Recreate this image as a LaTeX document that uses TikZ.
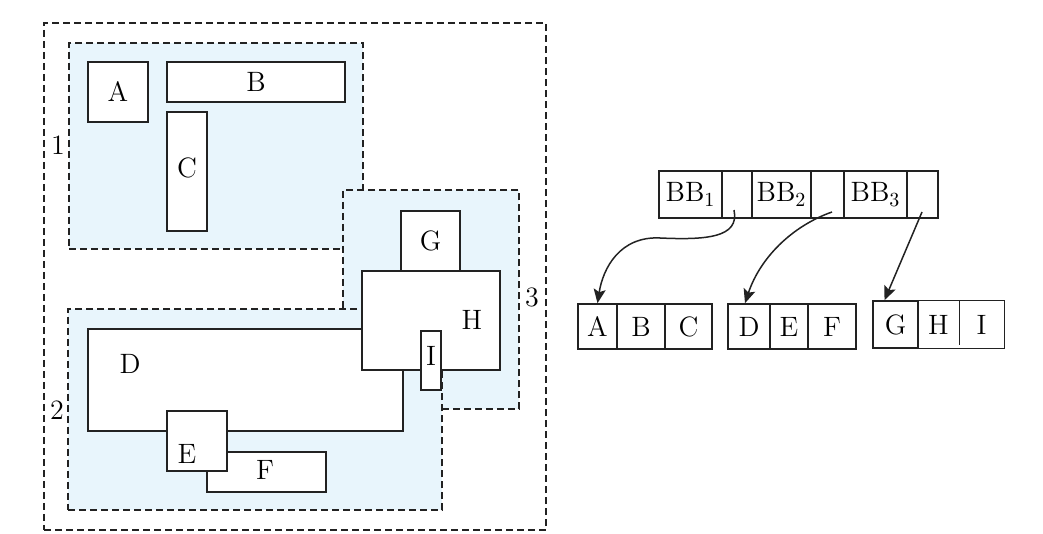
\documentclass[tikz,border=0pt]{standalone}
\usetikzlibrary{arrows.meta}
\definecolor{regionblue}{RGB}{232,245,252}
\definecolor{ink}{RGB}{34,34,34}
\begin{document}
\begin{tikzpicture}[x=0.5pt,y=-0.5pt,
  every node/.style={font=\fontsize{14}{16}\selectfont, text=black},
  region/.style={draw=ink, line width=0.75pt, dash pattern=on 3.3pt off 2.2pt, fill=regionblue, inner sep=0pt},
  outerbox/.style={draw=ink, line width=0.75pt, dash pattern=on 3.3pt off 2.2pt, inner sep=0pt},
  obj/.style={draw=ink, line width=0.9pt, fill=white, inner sep=0pt},
  cell/.style={draw=ink, line width=0.8pt, inner sep=0pt},
  ptr/.style={draw=ink, line width=0.75pt, -{Stealth[length=7pt,width=6pt,inset=1.4pt]}}
]
\useasboundingbox (0,0) rectangle (1043,534);

% outer page boundary
\node[outerbox, minimum width=251pt, minimum height=253.5pt] (outer) at (295,276.5) {};

% three leaf regions (3 over 1, 2 over 3)
\node[region, minimum width=147pt, minimum height=103pt] (r1) at (216,146) {};
\node[region, minimum width=88pt, minimum height=109.5pt] (r3) at (431,299.5) {};
\node[region, minimum width=187pt, minimum height=100.5pt] (r2) at (255,409.5) {};

\node (l1) at (58,145) {1};
\node (l2) at (57,410) {2};
\node (l3) at (532,297) {3};

% objects in region 1
\node[obj, minimum width=30pt, minimum height=30pt] (A) at (118,92) {A};
\node[obj, minimum width=89pt, minimum height=20pt] (B) at (256,82) {B};
\node[obj, minimum width=20pt, minimum height=59.5pt] (C) at (187,171.5) {};
\node (Ct) at (187,168) {C};

% objects in region 2
\node[obj, minimum width=157.5pt, minimum height=51pt] (D) at (245.5,380) {};
\node (Dt) at (130,364) {D};
\node[obj, minimum width=59.5pt, minimum height=20pt] (F) at (266.5,472) {};
\node (Ft) at (265,470) {F};
\node[obj, minimum width=30pt, minimum height=30pt] (E) at (197,441) {};
\node (Et) at (187,454) {E};

% objects in region 3
\node[obj, minimum width=69pt, minimum height=49.5pt] (H) at (431,320.5) {};
\node (Ht) at (472,320) {H};
\node[obj, minimum width=29.5pt, minimum height=30pt] (G) at (430.5,241) {G};
\node[obj, minimum width=10pt, minimum height=29.5pt] (I) at (431,360.5) {};
\node (It) at (431,356) {I};

% root node of the tree
\node[cell, minimum width=31.5pt, minimum height=23.5pt] (bb1) at (690.5,194.5) {BB$_1$};
\node[cell, minimum width=15pt, minimum height=23.5pt] (p1) at (737,194.5) {};
\node[cell, minimum width=29.5pt, minimum height=23.5pt] (bb2) at (781.5,194.5) {BB$_2$};
\node[cell, minimum width=16.5pt, minimum height=23.5pt] (p2) at (827.5,194.5) {};
\node[cell, minimum width=31.5pt, minimum height=23.5pt] (bb3) at (875.5,194.5) {BB$_3$};
\node[cell, minimum width=15.5pt, minimum height=23.5pt] (p3) at (922.5,194.5) {};

% leaf nodes
\node[cell, minimum width=19.5pt, minimum height=22.5pt] (la) at (597.5,326.5) {A};
\node[cell, minimum width=24pt, minimum height=22.5pt] (lb) at (641,326.5) {B};
\node[cell, minimum width=23.5pt, minimum height=22.5pt] (lc) at (688.5,326.5) {C};

\node[cell, minimum width=21pt, minimum height=22.5pt] (ld) at (749,326.5) {D};
\node[cell, minimum width=19pt, minimum height=22.5pt] (le) at (789,326.5) {E};
\node[cell, minimum width=24pt, minimum height=22.5pt] (lf) at (832,326.5) {F};

\node[cell, minimum width=22.5pt, minimum height=23.5pt] (lg) at (895.5,324.5) {G};
\node[inner sep=0pt, minimum width=20.5pt, minimum height=23.5pt] (lh) at (938.5,324.5) {H};
\node[inner sep=0pt, minimum width=22.5pt, minimum height=23.5pt] (li) at (981.5,324.5) {I};
\draw[ink, line width=0.8pt] (lh.north west) -- (li.north east) -- (li.south east) -- (lh.south west);
\draw[ink, line width=0.8pt] (lh.north east) -- ([yshift=1.5pt]lh.south east);

% child pointers
\coordinate (s1) at (734,210);
\coordinate (s2) at (832,212);
\coordinate (s3) at (922,212);
\draw[ptr] (s1) .. controls (740,238) and (705,240) .. (660,238)
                .. controls (620,236) and (603,268) .. (la.north);
\draw[ptr] (s2) .. controls (792,226) and (760,258) .. ([xshift=-2pt]ld.north);
\draw[ptr] (s3) -- ([xshift=-5.5pt]lg.north);
\end{tikzpicture}
\end{document}
